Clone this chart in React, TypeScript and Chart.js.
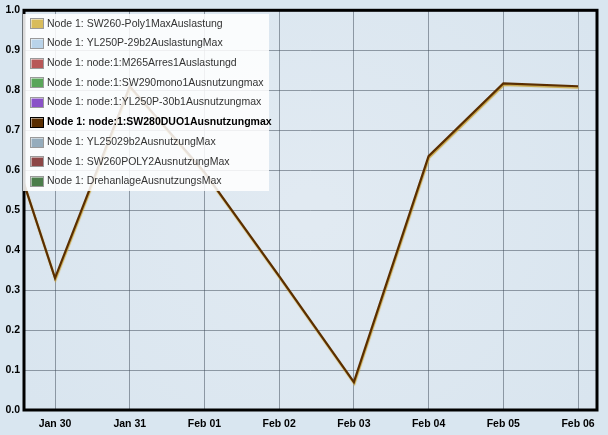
import React, { useEffect, useRef } from 'react';
import { Chart, registerables } from 'chart.js';

Chart.register(...registerables);

// ---- data ----
const dayLabels = ['Jan 29', 'Jan 30', 'Jan 31', 'Feb 01', 'Feb 02', 'Feb 03', 'Feb 04', 'Feb 05', 'Feb 06'];
const dayIndex = [-1, 0, 1, 2, 3, 4, 5, 6, 7];
const sw280Values = [0.9, 0.33, 0.81, 0.595, 0.335, 0.07, 0.635, 0.817, 0.81];
const seriesNames = [
  'Node 1: SW260-Poly1MaxAuslastung',
  'Node 1: YL250P-29b2AuslastungMax',
  'Node 1: node:1:M265Arres1Auslastungd',
  'Node 1: node:1:SW290mono1Ausnutzungmax',
  'Node 1: node:1:YL250P-30b1Ausnutzungmax',
  'Node 1: node:1:SW280DUO1Ausnutzungmax',
  'Node 1: YL25029b2AusnutzungMax',
  'Node 1: SW260POLY2AusnutzungMax',
  'Node 1: DrehanlageAusnutzungsMax',
];
const seriesColors = ['#d8bc5c', '#b9d3e9', '#b85858', '#5aa65a', '#8a52c8', '#5a2e00', '#95acbc', '#8c4646', '#4b7d4b'];
const highlightedSeries = 5;
const yTickValues = [0, 0.1, 0.2, 0.3, 0.4, 0.5, 0.6, 0.7, 0.8, 0.9, 1.0];
const xTickValues = [0, 1, 2, 3, 4, 5, 6, 7];
const xMin = -0.415;
const xMax = 7.254;

const FONT = '"Liberation Sans", Arial, sans-serif';

export default function App() {
  const ref = useRef<HTMLCanvasElement>(null);

  useEffect(() => {
    document.body.style.margin = '0';
    const canvas = ref.current!;

    const datasets = seriesNames.map((name, i) => ({
      label: name,
      data:
        i === highlightedSeries
          ? dayIndex.map((d, k) => ({ x: d, y: sw280Values[k] }))
          : [],
      borderColor: seriesColors[i],
      backgroundColor: seriesColors[i],
      borderWidth: 2.2,
      pointRadius: 0,
      tension: 0,
      fill: false,
    }));

    const bgPlugin = {
      id: 'bg',
      beforeDraw(chart: any) {
        const { ctx, chartArea: a } = chart;
        ctx.save();
        ctx.fillStyle = '#d9e6f0';
        ctx.fillRect(0, 0, chart.width, chart.height);
        const g = ctx.createRadialGradient(
          (a.left + a.right) / 2, (a.top + a.bottom) / 2, 20,
          (a.left + a.right) / 2, (a.top + a.bottom) / 2, 340
        );
        g.addColorStop(0, '#e1eaf2');
        g.addColorStop(1, '#d9e5ef');
        ctx.fillStyle = g;
        ctx.fillRect(a.left, a.top, a.right - a.left, a.bottom - a.top);
        ctx.restore();
      },
    };

    const shadowPlugin = {
      id: 'lineShadow',
      beforeDatasetDraw(chart: any, args: any) {
        if (args.index !== highlightedSeries) return;
        const ctx = chart.ctx;
        ctx.save();
        ctx.shadowColor = 'rgba(200,160,50,0.9)';
        ctx.shadowOffsetX = 0.5;
        ctx.shadowOffsetY = 1.5;
        ctx.shadowBlur = 1;
      },
      afterDatasetDraw(chart: any, args: any) {
        if (args.index !== highlightedSeries) return;
        chart.ctx.restore();
      },
    };

    const frameLegendPlugin = {
      id: 'frameLegend',
      afterDraw(chart: any) {
        const { ctx, chartArea: a } = chart;
        ctx.save();
        // frame
        ctx.strokeStyle = '#000';
        ctx.lineWidth = 3;
        ctx.strokeRect(a.left, a.top, a.right - a.left, a.bottom - a.top);
        // legend
        const bx = a.left - 1;
        const by = 14;
        const bw = 246;
        const bh = 177;
        ctx.fillStyle = 'rgba(255,255,255,0.86)';
        ctx.fillRect(bx, by, bw, bh);
        chart.data.datasets.forEach((ds: any, i: number) => {
          const cy = 23.3 + i * 19.7;
          const sx = 30.5;
          const sy = Math.round(cy - 5) + 0.5;
          const hi = i === highlightedSeries;
          ctx.fillStyle = ds.backgroundColor;
          ctx.fillRect(sx + 1, sy + 1, 12, 9);
          ctx.strokeStyle = hi ? '#000' : '#9a9a9a';
          ctx.lineWidth = 1;
          ctx.strokeRect(sx, sy, 13, 10);
          ctx.font = (hi ? 'bold ' : '') + '10.5px ' + FONT;
          ctx.fillStyle = hi ? '#000' : '#333';
          ctx.textBaseline = 'middle';
          ctx.textAlign = 'left';
          ctx.fillText(ds.label, 47, cy + 0.5);
        });
        ctx.restore();
      },
    };

    const chart = new Chart(canvas, {
      type: 'line',
      data: { datasets },
      options: {
        animation: false,
        responsive: false,
        devicePixelRatio: 1,
        layout: { padding: { top: 7, right: 11, left: 0, bottom: 0 } },
        plugins: {
          legend: { display: false },
          tooltip: { enabled: false },
        },
        scales: {
          x: {
            type: 'linear',
            min: xMin,
            max: xMax,
            afterBuildTicks: (s: any) => {
              s.ticks = xTickValues.map((v) => ({ value: v }));
            },
            afterFit: (s: any) => {
              s.height = 25;
            },
            ticks: {
              autoSkip: false,
              maxRotation: 0,
              padding: 8,
              color: '#000',
              font: { family: FONT, size: 10.5, weight: 'bold' },
              callback: (v: any) => dayLabels[dayIndex.indexOf(Number(v))] ?? '',
            },
            grid: { color: 'rgba(60,72,85,0.5)', lineWidth: 1, drawTicks: false },
            border: { display: false },
          },
          y: {
            type: 'linear',
            min: 0,
            max: 1,
            afterBuildTicks: (s: any) => {
              s.ticks = yTickValues.map((v) => ({ value: v }));
            },
            afterFit: (s: any) => {
              s.width = 24;
            },
            ticks: {
              padding: 4,
              color: '#000',
              font: { family: FONT, size: 10.5, weight: 'bold' },
              callback: (v: any) => Number(v).toFixed(1),
            },
            grid: { color: 'rgba(60,72,85,0.5)', lineWidth: 1, drawTicks: false },
            border: { display: false },
          },
        },
      },
      plugins: [bgPlugin, shadowPlugin, frameLegendPlugin],
    });

    return () => chart.destroy();
  }, []);

  return <canvas ref={ref} width={608} height={435} style={{ display: 'block', width: 608, height: 435 }} />;
}
